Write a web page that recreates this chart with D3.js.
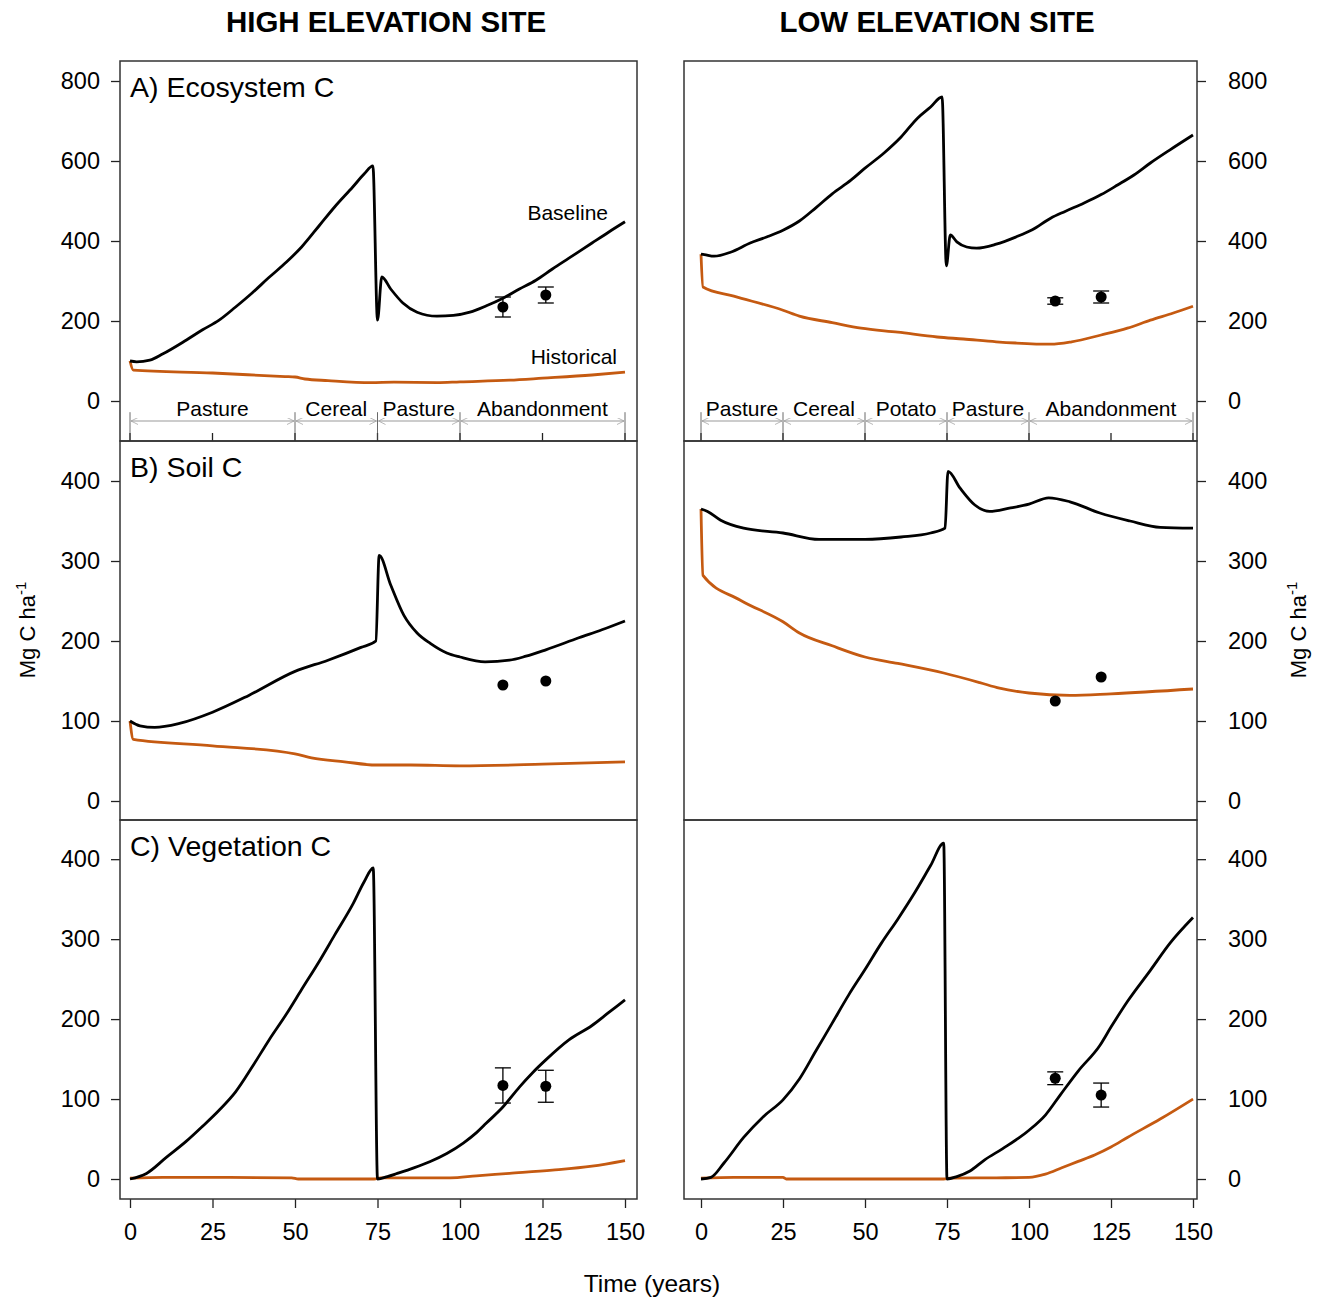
<!DOCTYPE html>
<html>
<head>
<meta charset="utf-8">
<script src="https://cdn.jsdelivr.net/npm/d3@7"></script>
<style>
  body { margin: 0; background: #fff; }
  svg { font-family: "Liberation Sans", Arial, sans-serif; }
</style>
</head>
<body>
<svg id="chart"></svg>
<script>
const width = 1325;
const height = 1299;

// ---- data: [year, Mg C/ha] ----
const hiEcoBase = [[0,100],[2,98],[6,102],[10,118],[17,152],[22,178],[27,202],[32,235],[37,270],[42,308],[47.5,348],[52,385],[57.5,440],[62,485],[67.5,535],[71,568],[73.6,588],[75,202],[76.3,310],[79,280],[82.7,245],[87,222],[93,212],[98,214],[103,222],[108,238],[113,257],[118,280],[123,302],[128,330],[133,357],[140,395],[145,422],[150,448]];
const hiEcoHist = [[0,100],[1,77],[25,70],[47,61],[50,60],[53,55],[60,51],[73,46],[80,47],[93,46],[100,48],[115,52],[125,57],[140,65],[150,72]];
const loEcoBase = [[0,367],[1,366],[4,362],[9,372],[15,395],[20,410],[25,427],[30,450],[35,483],[40,518],[45.7,552],[50,582],[55.8,620],[61,660],[66,707],[70,735],[73.5,760],[74.8,338],[76,415],[78,398],[81,385],[84,382],[90,392],[96,410],[101,428],[106.6,457],[111,474],[116.8,495],[122,516],[127,540],[132,565],[137,595],[143,628],[150,665]];
const loEcoHist = [[0,367],[0.6,285],[10,262],[25,227],[30,212],[40,196],[48.8,182],[60,172],[72,160],[80,155],[90,148],[96,145],[106.6,142],[113,148],[122,165],[130,182],[137,202],[144,220],[150,237]];

const hiSoilBase = [[0,100],[3,94],[7.5,92],[15,97],[25,111],[36,132],[50,162],[60,176],[70,192],[74.5,200],[75.5,307],[79,270],[83,232],[87,210],[91,197],[96,185],[100,180],[107.6,174],[115,176],[120,181],[126,189],[136,204],[143,214],[150,225]];
const hiSoilHist = [[0,100],[1,77],[25,69],[50,59],[55,54],[65,49],[74.5,45],[85,45],[100,44],[125,46],[150,49]];
const loSoilBase = [[0,365],[2,362],[6,351],[13,341],[25,335],[36,327],[50,327],[61,330],[70,335],[74.4,341],[75.3,412],[79,391],[83.5,370],[88,362],[94,366],[100,371],[106,379],[112.5,374],[121.6,360],[130.8,350],[140,342],[150,341]];
const loSoilHist = [[0,365],[0.6,282],[12,251],[25,224],[30,210],[40,194],[50,180],[60,172],[74,160],[85,148],[91,141],[100,135],[112.5,132],[125,134],[150,140]];

const hiVegBase = [[0,0],[5,7],[11,27],[17,47],[22,66],[27,86],[32,109],[37,140],[42,173],[47.5,207],[52,237],[57.6,274],[62,305],[67.7,345],[71,372],[73.7,389],[75,0],[78,3],[81,7],[86,14],[91,22],[96,32],[101,45],[105,58],[108,70],[113,90],[118,115],[122,133],[126,149],[133,174],[140,192],[145,208],[150,224]];
const hiVegHist = [[0,1],[10,2],[30,2],[49,1.5],[51,0],[74,0],[76,1.5],[97,1.5],[105,4],[115,7],[128,11],[140,16],[150,23]];
const loVegBase = [[0,0],[3,2],[7,20],[13,52],[19,78],[25,99],[30,125],[35,160],[40,195],[45,230],[50,262],[55,295],[60,325],[65,357],[70,392],[74,420],[75,0],[78,3],[82,10],[86.5,24],[92,38],[100,61],[105,80],[109.5,105],[115,135],[121.6,167],[125,190],[130,222],[137,261],[143,295],[150,327]];
const loVegHist = [[0,1],[10,2],[25,2],[26,0],[50,0],[74,0],[76,1],[90,1.5],[100,2],[105,6],[110,14],[115,22],[120,30],[125,40],[130,52],[140,75],[150,100]];

// observations: [year, mean, error]
const hiEcoObs = [[113,235,25],[126,265,20]];
const loEcoObs = [[108,250,8],[122,260,15]];
const hiSoilObs = [[113,145,0],[126,150,0]];
const loSoilObs = [[108,125,0],[122,155,0]];
const hiVegObs = [[113,117,22],[126,116,20]];
const loVegObs = [[108,126,8],[122,105,15]];

// land-use phases: [label, start, end]
const hiPhases = [["Pasture",0,50],["Cereal",50,75],["Pasture",75,100],["Abandonment",100,150]];
const loPhases = [["Pasture",0,25],["Cereal",25,50],["Potato",50,75],["Pasture",75,100],["Abandonment",100,150]];

const xTicks = [0,25,50,75,100,125,150];
const ecoTicks = [0,200,400,600,800];
const poolTicks = [0,100,200,300,400];

const panelTitles = ["A) Ecosystem C", "B) Soil C", "C) Vegetation C"];
const siteTitles = ["HIGH ELEVATION SITE", "LOW ELEVATION SITE"];

const black = "#000";
const orange = "#c55a11";

const svg = d3.select("#chart").attr("width", width).attr("height", height);

const cols = [
  {x0: 120, x1: 637, r0: 130, r1: 625, side: "left"},
  {x0: 684, x1: 1197, r0: 701, r1: 1193, side: "right"}
];
const rows = [
  {y0: 61, y1: 441, domain: [-100, 850], ticks: ecoTicks},
  {y0: 441, y1: 820, domain: [-23.75, 450], ticks: poolTicks},
  {y0: 820, y1: 1199, domain: [-25, 449], ticks: poolTicks}
];

const panels = [
  {row: 0, col: 0, base: hiEcoBase, hist: hiEcoHist, obs: hiEcoObs, phases: hiPhases},
  {row: 0, col: 1, base: loEcoBase, hist: loEcoHist, obs: loEcoObs, phases: loPhases},
  {row: 1, col: 0, base: hiSoilBase, hist: hiSoilHist, obs: hiSoilObs},
  {row: 1, col: 1, base: loSoilBase, hist: loSoilHist, obs: loSoilObs},
  {row: 2, col: 0, base: hiVegBase, hist: hiVegHist, obs: hiVegObs},
  {row: 2, col: 1, base: loVegBase, hist: loVegHist, obs: loVegObs}
];

// arrowhead markers for the phase lines
const defs = svg.append("defs");
defs.append("marker")
  .attr("id", "arrow-end")
  .attr("viewBox", "0 0 10 10")
  .attr("refX", 10).attr("refY", 5)
  .attr("markerWidth", 12).attr("markerHeight", 7)
  .attr("markerUnits", "userSpaceOnUse")
  .attr("orient", "auto")
  .append("path")
  .attr("d", "M0,0 L10,5 L0,10")
  .attr("fill", "none").attr("stroke", "#999").attr("stroke-width", 1);
defs.append("marker")
  .attr("id", "arrow-start")
  .attr("viewBox", "0 0 10 10")
  .attr("refX", 0).attr("refY", 5)
  .attr("markerWidth", 12).attr("markerHeight", 7)
  .attr("markerUnits", "userSpaceOnUse")
  .attr("orient", "auto")
  .append("path")
  .attr("d", "M10,0 L0,5 L10,10")
  .attr("fill", "none").attr("stroke", "#999").attr("stroke-width", 1);

panels.forEach(p => {
  const c = cols[p.col];
  const r = rows[p.row];

  const x = d3.scaleLinear().domain([0, 150]).range([c.r0, c.r1]);
  const y = d3.scaleLinear().domain(r.domain).range([r.y1, r.y0]);

  const g = svg.append("g");

  // y axis
  const yAxis = (c.side === "left" ? d3.axisLeft(y) : d3.axisRight(y))
    .tickValues(r.ticks).tickSize(9).tickPadding(7);
  const ya = g.append("g")
    .attr("transform", `translate(${c.side === "left" ? c.x0 : c.x1},0)`)
    .call(yAxis);
  ya.select(".domain").remove();
  ya.selectAll("text").style("font-size", "23.5px").attr("fill", "#000");
  ya.selectAll("line").attr("stroke", "#222").attr("stroke-width", 1.3);
  if (c.side === "right") ya.selectAll("text").attr("x", 31);
  else ya.selectAll("text").attr("x", -20);

  // bottom x axis only on bottom row
  if (p.row === 2) {
    const xa = g.append("g")
      .attr("transform", `translate(0,${r.y1})`)
      .call(d3.axisBottom(x).tickValues(xTicks).tickSize(9).tickPadding(15));
    xa.select(".domain").remove();
    xa.selectAll("text").style("font-size", "23.5px").attr("fill", "#000");
    xa.selectAll("line").attr("stroke", "#222").attr("stroke-width", 1.3);
  }

  // inner ticks and phase annotation on the top row
  if (p.phases) {
    g.selectAll(".itick").data(xTicks).join("line")
      .attr("x1", d => x(d)).attr("x2", d => x(d))
      .attr("y1", r.y1).attr("y2", r.y1 - 8)
      .attr("stroke", "#222").attr("stroke-width", 1.3);

    const bounds = Array.from(new Set(p.phases.flatMap(d => [d[1], d[2]])));
    g.selectAll(".pbound").data(bounds).join("line")
      .attr("x1", d => x(d)).attr("x2", d => x(d))
      .attr("y1", y(-28)).attr("y2", r.y1)
      .attr("stroke", "#444").attr("stroke-width", 0.8);

    g.selectAll(".parrow").data(p.phases).join("line")
      .attr("x1", d => x(d[1]) + 1).attr("x2", d => x(d[2]) - 1)
      .attr("y1", y(-50)).attr("y2", y(-50))
      .attr("stroke", "#999").attr("stroke-width", 1)
      .attr("marker-start", "url(#arrow-start)")
      .attr("marker-end", "url(#arrow-end)");

    g.selectAll(".plabel").data(p.phases).join("text")
      .attr("x", d => x((d[1] + d[2]) / 2))
      .attr("y", y(-37))
      .attr("text-anchor", "middle")
      .style("font-size", "21px")
      .text(d => d[0]);
  }

  const line = d3.line().x(d => x(d[0])).y(d => y(d[1])).curve(d3.curveMonotoneX);

  g.append("path").datum(p.hist)
    .attr("d", line)
    .attr("fill", "none").attr("stroke", orange).attr("stroke-width", 2.8)
    .attr("stroke-linejoin", "round");

  g.append("path").datum(p.base)
    .attr("d", line)
    .attr("fill", "none").attr("stroke", black).attr("stroke-width", 2.8)
    .attr("stroke-linejoin", "round");

  // observations
  const obs = g.selectAll(".obs").data(p.obs).join("g");
  obs.filter(d => d[2] > 0).append("line")
    .attr("x1", d => x(d[0])).attr("x2", d => x(d[0]))
    .attr("y1", d => y(d[1] - d[2])).attr("y2", d => y(d[1] + d[2]))
    .attr("stroke", "#000").attr("stroke-width", 1.3);
  obs.filter(d => d[2] > 0).selectAll(".cap")
    .data(d => [[d[0], d[1] - d[2]], [d[0], d[1] + d[2]]])
    .join("line")
    .attr("x1", d => x(d[0]) - 8).attr("x2", d => x(d[0]) + 8)
    .attr("y1", d => y(d[1])).attr("y2", d => y(d[1]))
    .attr("stroke", "#000").attr("stroke-width", 1.3);
  obs.append("circle")
    .attr("cx", d => x(d[0])).attr("cy", d => y(d[1]))
    .attr("r", 5.5).attr("fill", "#000");

  // frame
  g.append("rect")
    .attr("x", c.x0).attr("y", r.y0)
    .attr("width", c.x1 - c.x0).attr("height", r.y1 - r.y0)
    .attr("fill", "none").attr("stroke", "#333").attr("stroke-width", 1.5);

  if (p.col === 0) {
    g.append("text")
      .attr("x", 130).attr("y", r.y0 + 36)
      .style("font-size", "28.5px")
      .text(panelTitles[p.row]);
  }

  if (p.row === 0 && p.col === 0) {
    g.append("text").attr("x", 608).attr("y", 220).attr("text-anchor", "end")
      .style("font-size", "21px").text("Baseline");
    g.append("text").attr("x", 617).attr("y", 364).attr("text-anchor", "end")
      .style("font-size", "21px").text("Historical");
  }
});

// site headers
svg.selectAll(".site").data(siteTitles).join("text")
  .attr("x", (d, i) => i === 0 ? 386 : 937)
  .attr("y", 32)
  .attr("text-anchor", "middle")
  .style("font-size", "29.5px").style("font-weight", "bold")
  .text(d => d);

// axis titles
svg.append("text")
  .attr("x", 652).attr("y", 1292)
  .attr("text-anchor", "middle")
  .style("font-size", "24.5px")
  .text("Time (years)");

[[35, 630], [1306, 630]].forEach(([tx, ty]) => {
  const t = svg.append("text")
    .attr("transform", `translate(${tx},${ty}) rotate(-90)`)
    .attr("text-anchor", "middle")
    .style("font-size", "22px");
  t.append("tspan").text("Mg C ha");
  t.append("tspan").attr("dy", -9).style("font-size", "15px").text("-1");
});
</script>
</body>
</html>
